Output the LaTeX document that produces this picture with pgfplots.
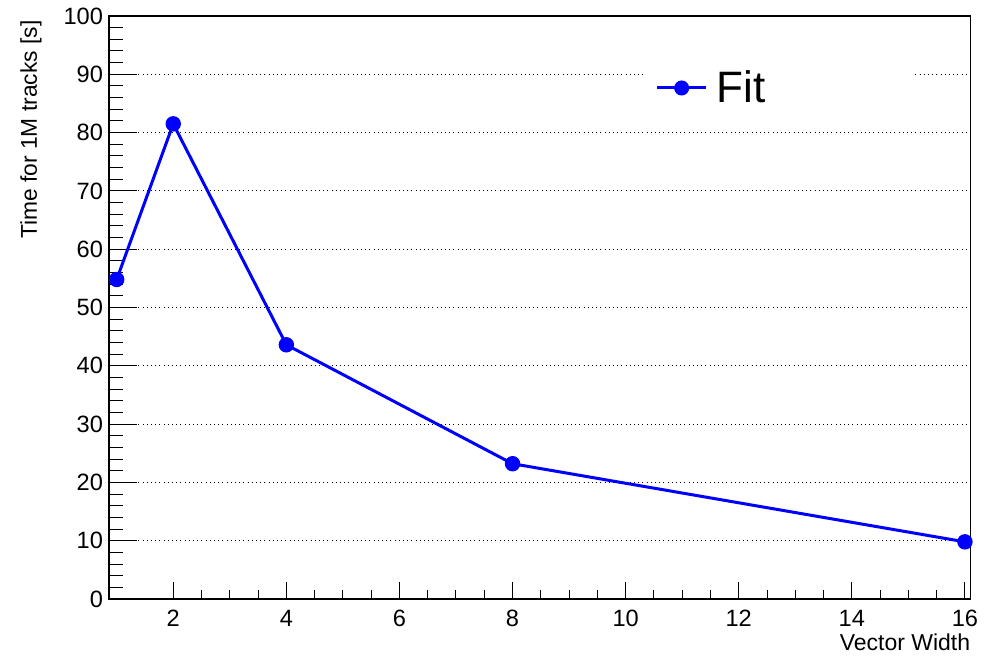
\documentclass[border=0pt]{standalone}
\usepackage{pgfplots}
\pgfplotsset{compat=1.18}
\usepackage{fontspec}
\setmainfont{Liberation Sans}
\definecolor{rootblue}{RGB}{0,0,255}
\begin{document}
\begin{tikzpicture}[x=1pt,y=1pt]
\path[use as bounding box] (0,0) rectangle (493.5,328);
\pgfplotsset{
  myaxis/.style={
    at={(54.5pt,28.5pt)}, anchor=south west,
    scale only axis, width=430.8pt, height=291.5pt,
    xmin=0.864, xmax=16.1, ymin=0, ymax=100,
    axis line style={line width=0.6pt},
    tick style={black, line width=0.5pt},
    /pgf/number format/assume math mode=true,
    tick align=inside,
  }
}
\begin{axis}[myaxis,
  axis line style={draw=none},
  xtick=\empty,
  ytick={0,10,...,100}, minor y tick num=4,
  ytick pos=left,
  major tick length=14pt, minor tick length=7pt,
  yticklabel style={xshift=0.5pt, font=\fontsize{11.8}{13}\selectfont},
]
\addplot[draw=none] coordinates {(1,0)};
\end{axis}
\begin{axis}[myaxis,
  xtick={2,4,...,16}, minor x tick num=3,
  xtick pos=bottom,
  ytick={0,10,...,100}, ytick style={draw=none}, minor ytick={},
  yticklabels={},
  major tick length=8.5pt, minor tick length=4.5pt,
  xticklabel style={yshift=-2pt, font=\fontsize{11.8}{13}\selectfont},
  ymajorgrids, grid style={black, line width=0.5pt, dash pattern=on 0.5pt off 1.6pt},
  xlabel={Vector Width},
  xlabel style={at={(rel axis cs:1,0)}, anchor=north east, inner sep=0pt, yshift=-17pt, font=\fontsize{11.5}{12}\selectfont},
  ylabel={Time for 1M tracks [s]},
  ylabel style={at={(axis description cs:-0.0778,0.993)}, anchor=south east, inner sep=0pt, font=\fontsize{11.4}{12}\selectfont},
  legend style={at={(axis description cs:0.634,0.8765)}, anchor=west, draw=none, fill=none, inner sep=0pt,
    font=\fontsize{22}{22}\selectfont, nodes={inner sep=0pt}, column sep=4.5pt},
  legend image code/.code={\draw[rootblue, line width=1.5pt] (0pt,0pt) -- (24.5pt,0pt); \fill[rootblue] (12.25pt,0pt) circle (3pt);},
]
\fill[white] (axis description cs:0.622,0.813) rectangle (axis description cs:0.935,0.942);
\addplot[rootblue, line width=1.5pt, mark=*, mark size=3.1pt, mark options={fill=rootblue, draw=rootblue}]
  coordinates {(1,54.8) (2,81.5) (4,43.6) (8,23.2) (16,9.8)};
\addlegendentry{Fit}
\end{axis}
\end{tikzpicture}
\end{document}
